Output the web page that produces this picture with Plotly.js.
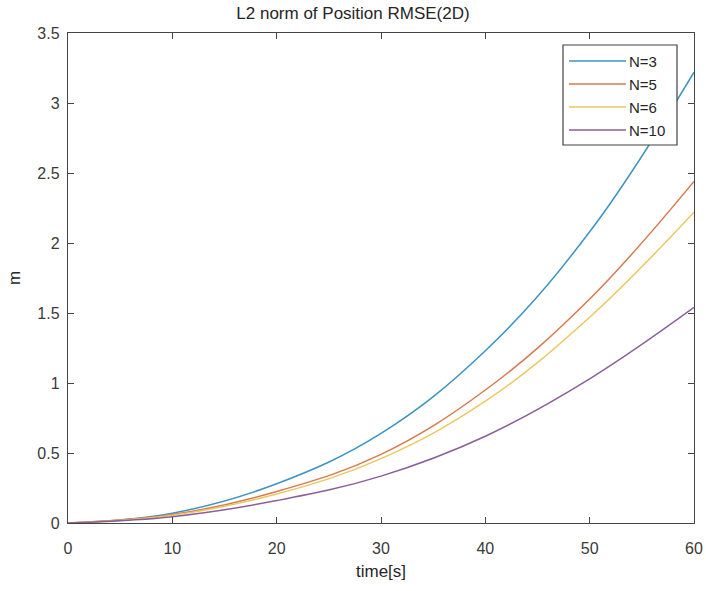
<!DOCTYPE html>
<html>
<head>
<meta charset="utf-8">
<script src="https://cdn.plot.ly/plotly-3.0.1.min.js"></script>
<style>html,body{margin:0;padding:0;background:#fff;}#chart{width:706px;height:591px;}</style>
</head>
<body>
<div id="chart"></div>
<script>
var time = [0, 10, 20, 30, 40, 50, 60];
var seriesNames = ["N=3", "N=5", "N=6", "N=10"];
var n3  = [0, 0.07, 0.28, 0.64, 1.23, 2.08, 3.22];
var n5  = [0, 0.06, 0.225, 0.49, 0.95, 1.60, 2.44];
var n6  = [0, 0.055, 0.207, 0.46, 0.87, 1.47, 2.22];
var n10 = [0, 0.045, 0.16, 0.335, 0.62, 1.03, 1.54];
var xTicks = [0, 10, 20, 30, 40, 50, 60];
var yTicks = [0, 0.5, 1, 1.5, 2, 2.5, 3, 3.5];
var yTickText = ["0", "0.5", "1", "1.5", "2", "2.5", "3", "3.5"];
var colors = ["#3f93c2", "#d67a4f", "#eac860", "#8a5f99"];

var FONT = "Liberation Sans, Arial, sans-serif";
var values = [n3, n5, n6, n10];
var traces = values.map(function (v, i) {
  return {
    x: time, y: v, name: seriesNames[i], type: "scatter", mode: "lines",
    line: {color: colors[i], width: 1.5, shape: "spline", smoothing: 1.1},
    showlegend: false
  };
});

// custom legend (paper coordinates) to mimic MATLAB legend look
var plotL = 68, plotR = 694, plotT = 33, plotB = 523;
function px2x(p) { return (p - plotL) / (plotR - plotL); }
function px2y(p) { return (plotB - p) / (plotB - plotT); }
var legendRows = [61, 84, 107, 130];
var shapes = [{
  type: "rect", xref: "paper", yref: "paper",
  x0: px2x(563), x1: px2x(677), y0: px2y(145), y1: px2y(45),
  line: {color: "#404040", width: 1.2}, fillcolor: "#ffffff", layer: "above"
}];
var annotations = [];
seriesNames.forEach(function (name, i) {
  shapes.push({
    type: "line", xref: "paper", yref: "paper",
    x0: px2x(569), x1: px2x(626), y0: px2y(legendRows[i]), y1: px2y(legendRows[i]),
    line: {color: colors[i], width: 1.5}, layer: "above"
  });
  annotations.push({
    xref: "paper", yref: "paper", x: px2x(627), y: px2y(legendRows[i]),
    xanchor: "left", yanchor: "middle", showarrow: false, text: name,
    font: {family: FONT, size: 15, color: "#262626"}
  });
});

var axisCommon = {
  showgrid: false, zeroline: false, showline: true, mirror: "ticks",
  linecolor: "#454545", linewidth: 1.2, ticks: "inside", ticklen: 6,
  tickcolor: "#454545", tickfont: {family: FONT, size: 16, color: "#3a3a3a"}
};

var layout = {
  width: 706, height: 591,
  margin: {l: plotL, r: 706 - plotR, t: plotT, b: 591 - plotB},
  paper_bgcolor: "#fff", plot_bgcolor: "#fff",
  title: {text: "L2 norm of Position RMSE(2D)", x: 0.5, xanchor: "center", y: 0.988, yanchor: "top",
          font: {family: FONT, size: 17, color: "#262626"}},
  xaxis: Object.assign({}, axisCommon, {
    range: [0, 60], tickvals: xTicks, ticktext: xTicks.map(String), ticklabelstandoff: 11,
    title: {text: "time[s]", standoff: 8, font: {family: FONT, size: 17, color: "#262626"}}
  }),
  yaxis: Object.assign({}, axisCommon, {
    range: [0, 3.5], tickvals: yTicks, ticktext: yTickText, ticklabelstandoff: 4,
    title: {text: "m", standoff: 12, font: {family: FONT, size: 17, color: "#262626"}}
  }),
  showlegend: false,
  shapes: shapes,
  annotations: annotations
};

Plotly.newPlot("chart", traces, layout, {displayModeBar: false, staticPlot: true});
</script>
</body>
</html>
